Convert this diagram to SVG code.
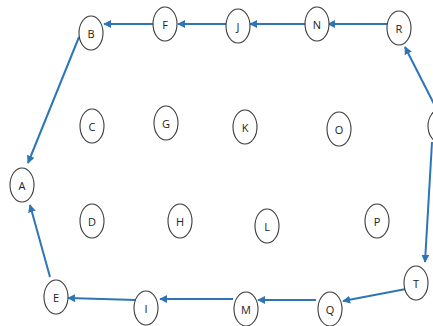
<svg xmlns="http://www.w3.org/2000/svg" width="433" height="326" viewBox="0 0 433 326">
<style>
.n ellipse{fill:#fff;stroke:#3a3a3a;stroke-width:1.1}
.n text{font-family:"Open Sans","Liberation Sans",sans-serif;font-size:11px;fill:#222;text-anchor:middle;dominant-baseline:central}
.e line{stroke:#2e75b6;stroke-width:2;marker-end:url(#ah)}
</style>
<defs>
<marker id="ah" viewBox="0 0 10 10" refX="9" refY="5" markerWidth="4" markerHeight="4" orient="auto" markerUnits="strokeWidth">
<path d="M0,0 L10,5 L0,10 z" fill="#2e75b6"/>
</marker>
</defs>
<rect width="433" height="326" fill="#fff"/>
<g class="e" id="connectors">
<line x1="153" y1="24" x2="104" y2="24"/>
<line x1="226" y1="24" x2="178" y2="24"/>
<line x1="305" y1="24" x2="250" y2="24"/>
<line x1="387" y1="24" x2="328" y2="24"/>
<line x1="434" y1="104" x2="405" y2="47"/>
<line x1="79" y1="37" x2="28" y2="163"/>
<line x1="50" y1="277" x2="30" y2="205"/>
<line x1="136" y1="300" x2="68" y2="298"/>
<line x1="233" y1="299" x2="160" y2="299"/>
<line x1="316" y1="300" x2="258" y2="300"/>
<line x1="406" y1="289" x2="343" y2="301"/>
<line x1="432" y1="142" x2="425" y2="262"/>
</g>
<g class="n" id="A"><ellipse cx="22" cy="185" rx="12" ry="17"/><text x="22" y="185">A</text></g>
<g class="n" id="B"><ellipse cx="91" cy="33" rx="12" ry="17"/><text x="91" y="33">B</text></g>
<g class="n" id="C"><ellipse cx="92" cy="126" rx="12" ry="17"/><text x="92" y="126">C</text></g>
<g class="n" id="D"><ellipse cx="92" cy="221" rx="12" ry="17"/><text x="92" y="221">D</text></g>
<g class="n" id="E"><ellipse cx="56" cy="297" rx="12" ry="17"/><text x="56" y="297">E</text></g>
<g class="n" id="F"><ellipse cx="165" cy="24" rx="12" ry="17"/><text x="165" y="24">F</text></g>
<g class="n" id="G"><ellipse cx="166" cy="123" rx="12" ry="17"/><text x="166" y="123">G</text></g>
<g class="n" id="H"><ellipse cx="180" cy="221" rx="12" ry="17"/><text x="180" y="221">H</text></g>
<g class="n" id="I"><ellipse cx="146" cy="308" rx="12" ry="17"/><text x="146" y="308">I</text></g>
<g class="n" id="J"><ellipse cx="238" cy="26" rx="12" ry="17"/><text x="238" y="26">J</text></g>
<g class="n" id="K"><ellipse cx="245" cy="127" rx="12" ry="17"/><text x="245" y="127">K</text></g>
<g class="n" id="L"><ellipse cx="267" cy="226" rx="12" ry="17"/><text x="267" y="226">L</text></g>
<g class="n" id="M"><ellipse cx="246" cy="309" rx="12" ry="17"/><text x="246" y="309">M</text></g>
<g class="n" id="N"><ellipse cx="317" cy="24" rx="12" ry="17"/><text x="317" y="24">N</text></g>
<g class="n" id="O"><ellipse cx="339" cy="129" rx="12" ry="17"/><text x="339" y="129">O</text></g>
<g class="n" id="P"><ellipse cx="377" cy="221" rx="12" ry="17"/><text x="377" y="221">P</text></g>
<g class="n" id="Q"><ellipse cx="330" cy="309" rx="12" ry="17"/><text x="330" y="309">Q</text></g>
<g class="n" id="R"><ellipse cx="399" cy="28" rx="12" ry="17"/><text x="399" y="28">R</text></g>
<g class="n" id="S"><ellipse cx="441" cy="126" rx="13" ry="17"/></g>
<g class="n" id="T"><ellipse cx="416" cy="283" rx="12" ry="17"/><text x="416" y="283">T</text></g>
</svg>
